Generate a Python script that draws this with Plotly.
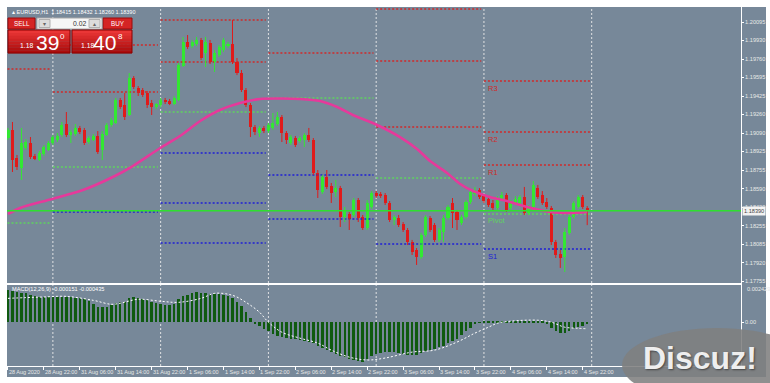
import plotly.graph_objects as go

W, H = 770, 383
FONT = "Liberation Sans, Arial, sans-serif"

# ---------------- data ----------------
symbol_title = "\u25b4 EURUSD,H1  1.18415 1.18432 1.18260 1.18390"
macd_title = "MACD(12,26,9) -0.000151 -0.000435"

bar_index = list(range(130))
opens = [
    1.19047, 1.19119, 1.18866, 1.18776, 1.18957, 1.19002, 1.18885, 1.18848, 1.18903, 1.18939,
    1.19002, 1.19029, 1.19074, 1.19174, 1.19083, 1.19083, 1.19138, 1.19119, 1.19011, 1.19029,
    1.19065, 1.18939, 1.19074, 1.19165, 1.19183, 1.19391, 1.19345, 1.19255, 1.19589, 1.19499,
    1.19481, 1.19454, 1.19363, 1.19327, 1.19345, 1.19391, 1.19381, 1.19354, 1.19391, 1.19698,
    1.19915, 1.19878, 1.19897, 1.19933, 1.19815, 1.19906, 1.19734, 1.19797, 1.19842, 1.19878,
    1.19897, 1.19734, 1.19634, 1.19481, 1.19345, 1.19147, 1.19092, 1.19138, 1.19110, 1.19138,
    1.19174, 1.19237, 1.19092, 1.19002, 1.19047, 1.19020, 1.19029, 1.19074, 1.19029, 1.18731,
    1.18559, 1.18695, 1.18614, 1.18559, 1.18595, 1.18333, 1.18361, 1.18352, 1.18487, 1.18333,
    1.18234, 1.18424, 1.18550, 1.18541, 1.18532, 1.18460, 1.18306, 1.18324, 1.18270, 1.18216,
    1.18108, 1.18035, 1.17972, 1.18171, 1.18324, 1.18261, 1.18126, 1.18198, 1.18324, 1.18460,
    1.18379, 1.18279, 1.18333, 1.18469, 1.18541, 1.18577, 1.18523, 1.18496, 1.18460, 1.18415,
    1.18496, 1.18532, 1.18415, 1.18460, 1.18442, 1.18514, 1.18370, 1.18424, 1.18595, 1.18532,
    1.18469, 1.18415, 1.18108, 1.17999, 1.17972, 1.18189, 1.18333, 1.18424, 1.18514, 1.18415,
]
highs = [
    1.19138, 1.19192, 1.18894, 1.19138, 1.19038, 1.19056, 1.18903, 1.18930, 1.18984, 1.19020,
    1.19074, 1.19092, 1.19192, 1.19282, 1.19119, 1.19174, 1.19156, 1.19138, 1.19065, 1.19083,
    1.19110, 1.19110, 1.19183, 1.19228, 1.19409, 1.19409, 1.19454, 1.19634, 1.19607, 1.19517,
    1.19499, 1.19472, 1.19391, 1.19363, 1.19409, 1.19409, 1.19400, 1.19427, 1.19725, 1.19960,
    1.19978, 1.19933, 1.19960, 1.19951, 1.19960, 1.19933, 1.19842, 1.19887, 1.19951, 1.19915,
    1.20113, 1.19770, 1.19662, 1.19499, 1.19363, 1.19165, 1.19156, 1.19156, 1.19183, 1.19273,
    1.19282, 1.19255, 1.19110, 1.19074, 1.19065, 1.19065, 1.19092, 1.19138, 1.19047, 1.18758,
    1.18713, 1.18758, 1.18641, 1.18668, 1.18614, 1.18424, 1.18379, 1.18505, 1.18505, 1.18352,
    1.18487, 1.18568, 1.18568, 1.18559, 1.18550, 1.18478, 1.18352, 1.18352, 1.18288, 1.18234,
    1.18126, 1.18053, 1.18189, 1.18352, 1.18342, 1.18279, 1.18234, 1.18352, 1.18442, 1.18505,
    1.18397, 1.18352, 1.18487, 1.18577, 1.18605, 1.18595, 1.18541, 1.18514, 1.18487, 1.18523,
    1.18559, 1.18550, 1.18487, 1.18523, 1.18532, 1.18605, 1.18442, 1.18659, 1.18623, 1.18568,
    1.18505, 1.18433, 1.18126, 1.18035, 1.18234, 1.18352, 1.18478, 1.18532, 1.18532, 1.18432,
]
lows = [
    1.19029, 1.18740, 1.18758, 1.18668, 1.18939, 1.18857, 1.18848, 1.18839, 1.18885, 1.18930,
    1.18984, 1.19011, 1.19056, 1.19056, 1.19002, 1.19065, 1.19083, 1.18984, 1.18993, 1.19020,
    1.18903, 1.18848, 1.19065, 1.19147, 1.19174, 1.19309, 1.19210, 1.19246, 1.19490, 1.19427,
    1.19418, 1.19318, 1.19255, 1.19309, 1.19327, 1.19354, 1.19345, 1.19345, 1.19381, 1.19689,
    1.19851, 1.19860, 1.19878, 1.19752, 1.19689, 1.19716, 1.19644, 1.19779, 1.19824, 1.19860,
    1.19716, 1.19616, 1.19463, 1.19327, 1.19056, 1.19074, 1.19056, 1.19092, 1.19092, 1.19119,
    1.19156, 1.19011, 1.18993, 1.18984, 1.18966, 1.19002, 1.18966, 1.19011, 1.18713, 1.18505,
    1.18541, 1.18586, 1.18460, 1.18514, 1.18243, 1.18288, 1.18216, 1.18333, 1.18288, 1.18216,
    1.18216, 1.18406, 1.18505, 1.18505, 1.18442, 1.18288, 1.18261, 1.18243, 1.18198, 1.18080,
    1.17990, 1.17900, 1.17954, 1.18153, 1.18198, 1.18108, 1.18108, 1.18108, 1.18306, 1.18234,
    1.18216, 1.18261, 1.18315, 1.18451, 1.18523, 1.18496, 1.18460, 1.18424, 1.18397, 1.18397,
    1.18478, 1.18379, 1.18397, 1.18442, 1.18424, 1.18352, 1.18352, 1.18406, 1.18496, 1.18442,
    1.18406, 1.18080, 1.17963, 1.17873, 1.17836, 1.18171, 1.18315, 1.18406, 1.18406, 1.18260,
]
closes = [
    1.19119, 1.18848, 1.18785, 1.19002, 1.19011, 1.18876, 1.18857, 1.18912, 1.18966, 1.19002,
    1.19056, 1.19065, 1.19165, 1.19074, 1.19101, 1.19138, 1.19101, 1.19002, 1.19047, 1.19065,
    1.18921, 1.19083, 1.19165, 1.19210, 1.19391, 1.19327, 1.19237, 1.19589, 1.19508, 1.19454,
    1.19436, 1.19345, 1.19327, 1.19354, 1.19391, 1.19372, 1.19354, 1.19409, 1.19707, 1.19915,
    1.19869, 1.19915, 1.19933, 1.19770, 1.19915, 1.19734, 1.19815, 1.19869, 1.19933, 1.19897,
    1.19734, 1.19634, 1.19481, 1.19345, 1.19147, 1.19101, 1.19138, 1.19110, 1.19165, 1.19183,
    1.19237, 1.19092, 1.19029, 1.19056, 1.18984, 1.19047, 1.19074, 1.19029, 1.18731, 1.18577,
    1.18695, 1.18605, 1.18550, 1.18595, 1.18333, 1.18397, 1.18315, 1.18487, 1.18324, 1.18234,
    1.18460, 1.18550, 1.18523, 1.18523, 1.18460, 1.18306, 1.18333, 1.18261, 1.18216, 1.18108,
    1.18017, 1.17972, 1.18171, 1.18333, 1.18216, 1.18126, 1.18216, 1.18324, 1.18424, 1.18370,
    1.18306, 1.18333, 1.18469, 1.18559, 1.18577, 1.18514, 1.18478, 1.18442, 1.18415, 1.18487,
    1.18532, 1.18397, 1.18469, 1.18496, 1.18514, 1.18370, 1.18424, 1.18623, 1.18514, 1.18460,
    1.18424, 1.18108, 1.17990, 1.17963, 1.18198, 1.18333, 1.18460, 1.18514, 1.18424, 1.18390,
]

ma_index = [0, 2.7, 9.8, 16.7, 23.8, 27.8, 33.9, 38.3, 42.8, 47.2, 51.7, 56.1, 61.2, 65,
            69.5, 73.3, 76.8, 82.2, 87.3, 91.1, 94, 97.8, 100.7, 103.6, 107.3, 111.1,
            115.6, 120.7, 125.2, 129]
ma_values = [1.18361, 1.18415, 1.18496, 1.18577, 1.18704, 1.18794, 1.18957, 1.19065,
             1.19201, 1.19300, 1.19363, 1.19400, 1.19404, 1.19400, 1.19381, 1.19327,
             1.19255, 1.19165, 1.19056, 1.18948, 1.18839, 1.18731, 1.18632, 1.18568,
             1.18514, 1.18478, 1.18424, 1.18379, 1.18370, 1.18379]

macd_hist = [
    0.00210, 0.00205, 0.00200, 0.00195, 0.00190, 0.00180, 0.00172, 0.00168, 0.00165, 0.00165,
    0.00164, 0.00164, 0.00165, 0.00166, 0.00164, 0.00162, 0.00160, 0.00152, 0.00142, 0.00120,
    0.00100, 0.00098, 0.00100, 0.00112, 0.00125, 0.00130, 0.00135, 0.00160, 0.00164, 0.00160,
    0.00155, 0.00145, 0.00135, 0.00128, 0.00122, 0.00115, 0.00112, 0.00118, 0.00150, 0.00175,
    0.00180, 0.00195, 0.00200, 0.00195, 0.00192, 0.00185, 0.00188, 0.00185, 0.00180, 0.00170,
    0.00160, 0.00135, 0.00105, 0.00065, 0.00028, -0.00010, -0.00025, -0.00045, -0.00060, -0.00080,
    -0.00090, -0.00100, -0.00105, -0.00108, -0.00112, -0.00118, -0.00122, -0.00128, -0.00138, -0.00155,
    -0.00170, -0.00184, -0.00195, -0.00210, -0.00225, -0.00232, -0.00240, -0.00249, -0.00255, -0.00262,
    -0.00245, -0.00225, -0.00210, -0.00200, -0.00195, -0.00195, -0.00197, -0.00200, -0.00210, -0.00213,
    -0.00216, -0.00215, -0.00200, -0.00192, -0.00185, -0.00175, -0.00164, -0.00155, -0.00140, -0.00125,
    -0.00110, -0.00085, -0.00060, -0.00035, -0.00015, -0.00002, 0.00003, 0.00005, 0.00006, 0.00006,
    0.00008, 0.00007, 0.00008, 0.00009, 0.00006, 0.00005, 0.00006, 0.00010, 0.00008, 0.00002,
    -0.00015, -0.00035, -0.00060, -0.00070, -0.00072, -0.00055, -0.00040, -0.00030, -0.00022, -0.000151,
]
signal_index = [0, 4, 8, 13, 19, 23, 25, 29, 34, 38, 43, 46, 50, 53, 56, 58, 61, 65, 69, 72,
                76, 80, 84, 90, 95, 100, 104, 107, 109, 112, 118, 121, 124, 127, 129]
signal_values = [0.00157, 0.00162, 0.00166, 0.00170, 0.00144, 0.00118, 0.00125, 0.00151,
                 0.00138, 0.00131, 0.00157, 0.00190, 0.00177, 0.00131, 0.00066, 0.00000,
                 -0.00066, -0.00105, -0.00138, -0.00184, -0.00230, -0.00249, -0.00236,
                 -0.00197, -0.00184, -0.00131, -0.00072, -0.00033, -0.00007, 0.00007,
                 0.00013, 0.00000, -0.00033, -0.00040, -0.000435]

day_starts = [10, 34, 58, 82, 106, 130]
seg_start = [-1, 10, 34, 58, 82, 106]
seg_end = [9.4, 33.4, 57.4, 81.4, 105.4, 129.6]
resistance = [[1.19671], [1.19887, 1.19463], [1.20113, 1.19734], [1.19815],
              [1.20213, 1.19743, 1.19147], [1.19562, 1.19101, 1.18803]]
pivot_level = [1.18279, 1.18785, 1.19282, 1.19409, 1.18686, 1.18361]
support = [[], [1.18379], [1.18912, 1.18460, 1.18098], [1.18713, 1.18315], [1.18089], [1.18044]]
last_names_r = ["R3", "R2", "R1"]
last_names_s = ["S1"]

bid_price = 1.18390
price_ticks = [1.20095, 1.19930, 1.19760, 1.19595, 1.19425, 1.19260, 1.19090, 1.18925,
               1.18755, 1.18590, 1.18420, 1.18255, 1.18085, 1.17920, 1.17755]
macd_max = 0.002429
macd_ticks = [0.0]
macd_tick_text = ["0.00"]
time_label_index = [0, 8, 16, 24, 32, 40, 48, 56, 64, 72, 80, 88, 96, 104, 112, 120, 128]
time_labels = ["28 Aug 2020", "28 Aug 22:00", "31 Aug 06:00", "31 Aug 14:00", "31 Aug 22:00",
               "1 Sep 06:00", "1 Sep 14:00", "1 Sep 22:00", "2 Sep 06:00", "2 Sep 14:00",
               "2 Sep 22:00", "3 Sep 06:00", "3 Sep 14:00", "3 Sep 22:00", "4 Sep 06:00",
               "4 Sep 14:00", "4 Sep 22:00"]

# ---------------- styling ----------------
BG = "#778899"
UP = "#33e833"
DN = "#e01b1b"
RED_DOT = "#d02a2a"
GRN_DOT = "#5fd35f"
BLU_DOT = "#1f1fd6"
MA_COL = "#e6399b"
HIST_COL = "#0f5a10"
LBL = "#e8e8e8"


def PX(x):
    return x / W


def PY(y):
    return 1 - y / H


fig = go.Figure()


def seg_trace(levels_per_seg, color):
    xs, ys = [], []
    for s, e, lv in zip(seg_start, seg_end, levels_per_seg):
        for v in lv:
            xs += [s, e, None]
            ys += [v, v, None]
    return go.Scatter(x=xs, y=ys, mode="lines", xaxis="x", yaxis="y",
                      line=dict(color=color, width=1.6, dash="2px,2px"), hoverinfo="skip")


fig.add_trace(seg_trace(resistance, RED_DOT))
fig.add_trace(seg_trace([[p] for p in pivot_level], GRN_DOT))
fig.add_trace(seg_trace(support, BLU_DOT))

for up in (True, False):
    xs, ys = [], []
    for i, o, h, l, c in zip(bar_index, opens, highs, lows, closes):
        if (c >= o) == up:
            xs += [i, i, None]
            ys += [l, h, None]
    fig.add_trace(go.Scatter(x=xs, y=ys, mode="lines", xaxis="x", yaxis="y",
                             line=dict(color=UP if up else DN, width=1), hoverinfo="skip"))

fig.add_trace(go.Bar(
    x=bar_index,
    y=[max(abs(c - o), 0.000012) for o, c in zip(opens, closes)],
    base=[min(o, c) for o, c in zip(opens, closes)],
    width=0.68, xaxis="x", yaxis="y",
    marker=dict(color=[UP if c >= o else DN for o, c in zip(opens, closes)], line=dict(width=0)),
    hoverinfo="skip"))

fig.add_trace(go.Scatter(x=ma_index, y=ma_values, mode="lines", xaxis="x", yaxis="y",
                         line=dict(color=MA_COL, width=2.6, shape="spline", smoothing=0.8),
                         hoverinfo="skip"))

fig.add_trace(go.Bar(x=bar_index, y=macd_hist, width=0.55, xaxis="x2", yaxis="y2",
                     marker=dict(color=HIST_COL, line=dict(width=0)), hoverinfo="skip"))
fig.add_trace(go.Scatter(x=signal_index, y=signal_values, mode="lines", xaxis="x2", yaxis="y2",
                         line=dict(color="white", width=1, dash="2px,2px", shape="spline"),
                         hoverinfo="skip"))

shapes = []
annotations = []

shapes.append(dict(type="rect", xref="paper", yref="paper", x0=PX(7), x1=PX(766),
                   y0=PY(377), y1=PY(7), fillcolor=BG, line=dict(width=0), layer="below"))

for d in day_starts:
    for ya in ("y", "y2"):
        shapes.append(dict(type="line", xref="x", yref=f"{ya} domain", x0=d, x1=d, y0=0, y1=1,
                           line=dict(color="rgba(235,235,235,0.9)", width=1, dash="2px,2px"),
                           layer="below"))

shapes.append(dict(type="line", xref="x domain", yref="y", x0=0, x1=1, y0=bid_price, y1=bid_price,
                   line=dict(color="#2ee02e", width=1.4), layer="above"))


def rect(x0, y0, x1, y1, fill, lc=None, lw=0):
    shapes.append(dict(type="rect", xref="paper", yref="paper", x0=PX(x0), x1=PX(x1),
                       y0=PY(y1), y1=PY(y0), fillcolor=fill,
                       line=dict(width=lw, color=lc or fill), layer="above"))


def txt(x, y, s, size=6.0, color=LBL, xanchor="left", family=FONT, **kw):
    annotations.append(dict(x=PX(x), y=PY(y), xref="paper", yref="paper", text=s,
                            showarrow=False, xanchor=xanchor, yanchor="middle",
                            font=dict(size=size, color=color, family=family), **kw))


# one-click trading panel
rect(8, 18, 35, 29, "#d42424", "#9a0a0a", 1)
rect(103, 18, 132, 29, "#d42424", "#9a0a0a", 1)
rect(37, 18, 102, 29, "#f6f6f6", "#a8a8a8", 1)
rect(39, 19.5, 50, 27.5, "#dcdcdc", "#b0b0b0", 1)
rect(89, 19.5, 100, 27.5, "#dcdcdc", "#b0b0b0", 1)
for bx0, bx1 in ((8, 70), (72, 132)):
    n = 8
    for j in range(n):
        t = j / (n - 1)
        col = f"rgb({int(234 - 62 * t)},{int(54 - 42 * t)},{int(54 - 42 * t)})"
        rect(bx0, 30 + j * 23 / n, bx1, 30 + (j + 1) * 23 / n + 0.3, col)
    rect(bx0, 30, bx1, 53, "rgba(0,0,0,0)", "#8a0000", 1)
txt(21.5, 23.5, "SELL", 6.3, "white", "center")
txt(117.5, 23.5, "BUY", 6.3, "white", "center")
txt(87.5, 23.5, "0.02", 6.8, "#333333", "right")
txt(44.5, 23.5, "\u25be", 6, "#666666", "center")
txt(94.5, 23.5, "\u25b4", 6, "#666666", "center")
txt(26.5, 45.5, "1.18", 6.8, "white", "center")
txt(47, 42, "39", 21, "white", "center")
txt(62.5, 36, "0", 8, "white", "center")
txt(87.5, 45.5, "1.18", 6.8, "white", "center")
txt(105, 42, "40", 21, "white", "center")
txt(120.5, 36, "8", 8, "white", "center")

txt(10, 12, symbol_title, 5.5, "white")
txt(10, 289, macd_title, 5.6, "white")
txt(745, 288.5, f"{macd_max:.6f}", 5.6, LBL)

for xi, lab in zip(time_label_index, time_labels):
    annotations.append(dict(x=xi, y=PY(371.5), xref="x2", yref="paper", text=lab, showarrow=False,
                            xanchor="left", yanchor="middle", xshift=-1,
                            font=dict(size=5.5, color=LBL, family=FONT)))

annotations.append(dict(x=PX(742), y=bid_price, xref="paper", yref="y", text=f"{bid_price:.5f}",
                        showarrow=False, xanchor="left", yanchor="middle", bgcolor="#f2f2f2",
                        borderpad=1, font=dict(size=5.6, color="#444444", family=FONT)))

last = len(seg_start) - 1
names = list(zip(last_names_r, resistance[last], [RED_DOT] * 3)) + \
    [("Pivot", pivot_level[last], GRN_DOT)] + list(zip(last_names_s, support[last], [BLU_DOT]))
for nm, lv, col in names:
    annotations.append(dict(x=seg_start[last] + 0.4, y=lv, xref="x", yref="y", text=nm,
                            showarrow=False, xanchor="left", yanchor="top", yshift=-0.5,
                            font=dict(size=7.5, color=col, family=FONT)))

shapes.append(dict(type="circle", xref="paper", yref="paper", x0=PX(622), x1=PX(812),
                   y0=PY(402), y1=PY(328), fillcolor="rgba(128,128,128,0.88)",
                   line=dict(width=0), layer="above"))
annotations.append(dict(x=PX(700), y=PY(358), xref="paper", yref="paper", text="Discuz!",
                        showarrow=False, xanchor="center", yanchor="middle",
                        font=dict(size=32, color="#eeeeee", family=FONT,
                                  weight="bold", shadow="1px 1px 2px #444")))

axis_common = dict(showgrid=False, zeroline=False, showline=True, mirror=True,
                   linecolor="white", linewidth=1)

fig.update_layout(
    width=W, height=H, margin=dict(l=0, r=0, t=0, b=0),
    paper_bgcolor="white", plot_bgcolor=BG, showlegend=False, hovermode=False,
    barmode="overlay", bargap=0,
    xaxis=dict(domain=[PX(7), PX(741)], range=[-0.22, 163.25], anchor="y",
               showticklabels=False, ticks="", **axis_common),
    yaxis=dict(domain=[PY(283), PY(7)], range=[1.17737, 1.20231], anchor="x", side="right",
               tickvals=price_ticks, ticktext=[f"{v:.5f}" for v in price_ticks],
               ticks="outside", ticklen=2, tickcolor="white",
               tickfont=dict(size=5.6, color=LBL, family=FONT), **axis_common),
    xaxis2=dict(domain=[PX(7), PX(741)], range=[-0.22, 163.25], anchor="y2",
                showticklabels=False, ticks="outside", tickvals=time_label_index, ticklen=3,
                tickcolor="white", **axis_common),
    yaxis2=dict(domain=[PY(366), PY(285)], range=[-0.002886, 0.00245], anchor="x2", side="right",
                tickvals=macd_ticks, ticktext=macd_tick_text, ticks="outside", ticklen=2,
                tickcolor="white", tickfont=dict(size=5.6, color=LBL, family=FONT), **axis_common),
    shapes=shapes, annotations=annotations,
)

fig.write_html("out.html")
